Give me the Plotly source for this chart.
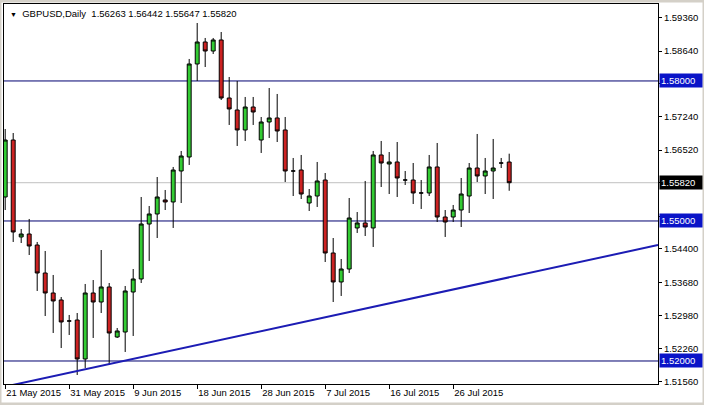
import pandas as pd
import plotly.graph_objects as go

# daily bars, MT4 style (Sunday bars included, no Saturdays)
dias = pd.date_range("2015-05-21", "2015-08-03", freq="D")
dates = [d.strftime("%Y-%m-%d") for d in dias if d.dayofweek != 5]

opens = [1.55514, 1.56735, 1.54657, 1.54721, 1.54485, 1.53885, 1.53457, 1.53307,
         1.52857, 1.52878, 1.52043, 1.53457, 1.53264, 1.53586, 1.52514, 1.52621,
         1.53478, 1.53757, 1.54935, 1.55150, 1.55450, 1.55407, 1.56071, 1.56371,
         1.58364, 1.58835, 1.58642, 1.58878, 1.57635, 1.57378, 1.56950, 1.57442,
         1.56735, 1.57121, 1.57207, 1.56950, 1.56071, 1.56092, 1.55385, 1.55535,
         1.55878, 1.54314, 1.53693, 1.53971, 1.54850, 1.54957, 1.54850, 1.56414,
         1.56221, 1.56264, 1.55878, 1.55878, 1.55600, 1.55600, 1.56157, 1.55085,
         1.55085, 1.55235, 1.55535, 1.56135, 1.55964, 1.56071, 1.56242, 1.56263]
highs = [1.56971, 1.56885, 1.54828, 1.55043, 1.54550, 1.54357, 1.53843, 1.53371,
         1.52986, 1.53028, 1.53650, 1.53735, 1.54378, 1.53671, 1.52707, 1.53607,
         1.53971, 1.55514, 1.55321, 1.55942, 1.55664, 1.56157, 1.56500, 1.58471,
         1.59242, 1.58921, 1.58921, 1.59049, 1.58085, 1.57999, 1.57657, 1.57657,
         1.57228, 1.57849, 1.57721, 1.57228, 1.56350, 1.56414, 1.55685, 1.56264,
         1.56028, 1.54635, 1.54185, 1.55492, 1.55192, 1.55857, 1.56500, 1.56714,
         1.56478, 1.56692, 1.56071, 1.56242, 1.55878, 1.56414, 1.56671, 1.55235,
         1.55343, 1.55921, 1.56242, 1.56864, 1.56350, 1.56757, 1.56350, 1.56442]
lows = [1.55235, 1.54550, 1.54528, 1.54271, 1.53500, 1.52964, 1.52600, 1.52278,
        1.52557, 1.51700, 1.51850, 1.52493, 1.53028, 1.51914, 1.52493, 1.52193,
        1.52536, 1.53671, 1.54143, 1.54635, 1.55235, 1.54850, 1.55385, 1.56200,
        1.57999, 1.58299, 1.58578, 1.57592, 1.57057, 1.56607, 1.56714, 1.57057,
        1.56457, 1.56778, 1.56692, 1.55835, 1.55535, 1.55471, 1.55214, 1.55300,
        1.54121, 1.53264, 1.53393, 1.53885, 1.54743, 1.54678, 1.54443, 1.55728,
        1.55578, 1.55514, 1.55771, 1.55364, 1.55257, 1.55535, 1.54978, 1.54657,
        1.54978, 1.54871, 1.55171, 1.55835, 1.55578, 1.55471, 1.56135, 1.55647]
closes = [1.56735, 1.54764, 1.54721, 1.54464, 1.53885, 1.53457, 1.53286, 1.52836,
          1.52857, 1.52043, 1.53457, 1.53264, 1.53586, 1.52600, 1.52643, 1.53500,
          1.53757, 1.54935, 1.55150, 1.55514, 1.55407, 1.56092, 1.56392, 1.58364,
          1.58835, 1.58642, 1.58878, 1.57635, 1.57400, 1.56950, 1.57442, 1.57335,
          1.57121, 1.57207, 1.56928, 1.56071, 1.56071, 1.55578, 1.55535, 1.55857,
          1.54314, 1.53693, 1.53971, 1.55064, 1.54957, 1.54871, 1.56414, 1.56242,
          1.56264, 1.55921, 1.55878, 1.55600, 1.55600, 1.56157, 1.55085, 1.54978,
          1.55235, 1.55578, 1.56135, 1.55964, 1.56071, 1.56135, 1.56242, 1.55820]

tick_dates = ["2015-05-21", "2015-05-31", "2015-06-09", "2015-06-18",
              "2015-06-28", "2015-07-07", "2015-07-16", "2015-07-26"]
tick_text = ["21 May 2015", "31 May 2015", "9 Jun 2015", "18 Jun 2015",
             "28 Jun 2015", "7 Jul 2015", "16 Jul 2015", "26 Jul 2015"]
price_ticks = [1.51560, 1.52260, 1.52980, 1.53680, 1.54400, 1.55100,
               1.55820, 1.56520, 1.57240, 1.57940, 1.58640, 1.59360]
# tapadas por las etiquetas de las líneas
ocultas = [1.55100, 1.55820, 1.57940]

niveles = [1.58000, 1.55000, 1.52000]   # horizontal lines
bid = 1.55820
# trendline anchors (bar index, price), drawn as ray to the right
trend_i = [0, 63]
trend_p = [1.51451, 1.53793]

x_max = 81.6
pend = (trend_p[1] - trend_p[0]) / (trend_i[1] - trend_i[0])
trend_end = trend_p[0] + pend * (x_max - trend_i[0])

fuente = "Liberation Sans"
price_text = ["" if t in ocultas else "%.5f" % t for t in price_ticks]

fig = go.Figure(go.Candlestick(
    x=dates, open=opens, high=highs, low=lows, close=closes,
    increasing=dict(line=dict(color="black", width=1), fillcolor="#33cc33"),
    decreasing=dict(line=dict(color="black", width=1), fillcolor="#cc2222"),
    whiskerwidth=0, showlegend=False, hoverinfo="skip"))

shapes = []
for n in niveles:
    shapes.append(dict(type="line", xref="paper", x0=0, x1=1, yref="y", y0=n, y1=n,
                       line=dict(color="#000070", width=1), layer="below"))
shapes.append(dict(type="line", xref="paper", x0=0, x1=1, yref="y", y0=bid, y1=bid,
                   line=dict(color="#c0c0c0", width=1), layer="below"))
shapes.append(dict(type="line", xref="x", yref="y", x0=trend_i[0], y0=trend_p[0],
                   x1=x_max, y1=trend_end, line=dict(color="#1c1cb4", width=2)))
# window frame
shapes.append(dict(type="rect", xref="paper", yref="paper",
                   x0=-4 / 654, x1=700 / 654, y0=-20 / 380, y1=1 + 3 / 380,
                   line=dict(color="#d4d0c8", width=3)))

anots = []
for n in niveles:
    anots.append(dict(xref="paper", x=1, xanchor="left", xshift=1, yref="y", y=n,
                      text="%.5f" % n, showarrow=False, bgcolor="#0a14c8",
                      font=dict(color="white", size=9.5, family=fuente),
                      borderpad=1, width=40, align="left"))
anots.append(dict(xref="paper", x=1, xanchor="left", xshift=1, yref="y", y=bid,
                  text="%.5f" % bid, showarrow=False, bgcolor="black",
                  font=dict(color="white", size=9.5, family=fuente),
                  borderpad=1, width=40, align="left"))
anots.append(dict(xref="paper", x=0, xanchor="left", xshift=4, yref="paper", y=1,
                  yanchor="top", yshift=-2, showarrow=False,
                  text="<span style='font-size:7px'>▼</span>  GBPUSD,Daily  %.5f %.5f %.5f %.5f"
                       % (opens[-1], highs[-1], lows[-1], closes[-1]),
                  font=dict(color="black", size=9.5, family=fuente)))

fig.update_layout(
    width=704, height=405,
    margin=dict(l=4, r=46, t=4, b=21),
    paper_bgcolor="white", plot_bgcolor="white",
    font=dict(family=fuente, size=9.5, color="black"),
    shapes=shapes, annotations=anots,
    xaxis=dict(type="category", range=[-0.15, x_max], rangeslider=dict(visible=False),
               tickvals=tick_dates, ticktext=tick_text, ticks="outside", ticklen=4,
               tickcolor="black", ticklabelposition="outside right",
               showline=True, linecolor="black", mirror=True, showgrid=False,
               zeroline=False),
    yaxis=dict(side="right", range=[1.51507, 1.59649], tickvals=price_ticks,
               ticktext=price_text, ticks="outside", ticklen=3, tickcolor="black",
               showline=True, linecolor="black", mirror=True, showgrid=False,
               zeroline=False),
)

# la página trae margen de 8px en el body, se quita
fig.write_html("out.html", config={"displayModeBar": False},
               post_script="document.body.style.margin='0';")
